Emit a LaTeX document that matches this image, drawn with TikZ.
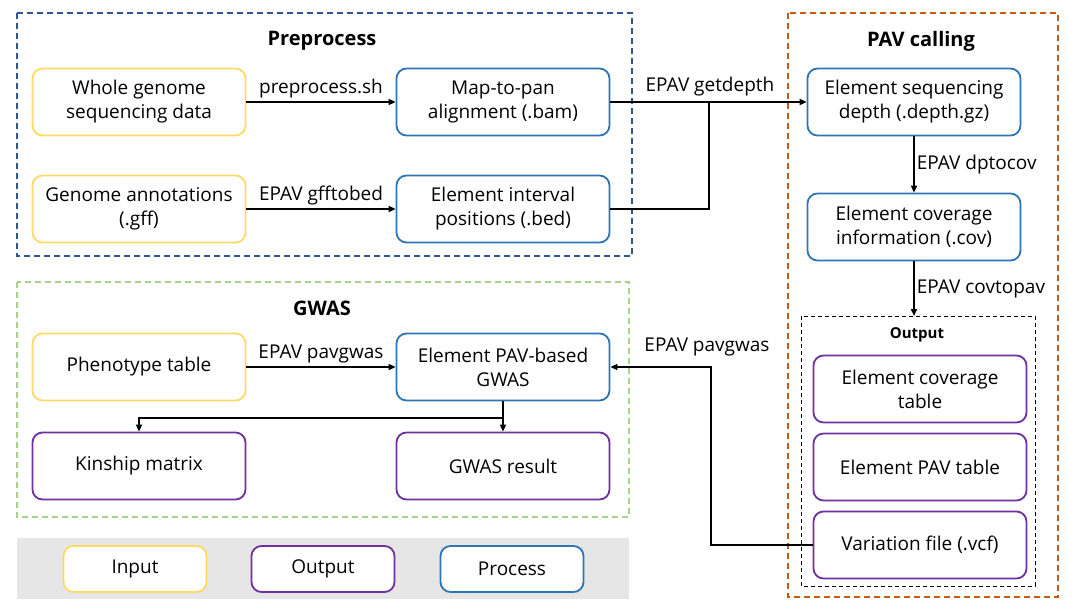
\documentclass[tikz,border=0pt]{standalone}
\usepackage{fontspec}
\setmainfont{Open Sans}
\usetikzlibrary{arrows.meta}
\definecolor{cin}{HTML}{FFD966}
\definecolor{cout}{HTML}{7030A0}
\definecolor{cproc}{HTML}{2E75B6}
\definecolor{fpre}{HTML}{2F5597}
\definecolor{fpav}{HTML}{C55A11}
\definecolor{fgw}{HTML}{A9D18E}
\definecolor{legbg}{HTML}{E6E6E6}
\tikzset{
  box/.style={draw, rounded corners=10pt, line width=1.8pt, minimum width=213pt, minimum height=67pt, align=center, fill=white, font=\fontsize{19}{24}\selectfont, inner sep=2pt},
  inbox/.style={box, draw=cin},
  outbox/.style={box, draw=cout},
  procbox/.style={box, draw=cproc},
  legbox/.style={box, minimum width=143pt, minimum height=46pt},
  frame/.style={line width=1.8pt, dash pattern=on 6pt off 4pt},
  conn/.style={line width=1.8pt, draw=black},
  arr/.style={conn, -{Triangle[length=7pt,width=6pt]}},
  lbl/.style={font=\fontsize{19}{24}\selectfont, inner sep=0pt},
  ttl/.style={font=\fontsize{20}{24}\selectfont\bfseries, inner sep=0pt},
}
\begin{document}
\begin{tikzpicture}[x=1pt,y=-1pt]
\useasboundingbox (0,0) rectangle (1080,608);
% frames
\draw[frame, draw=fpre] (17,13) rectangle (632,256);
\draw[frame, draw=fgw] (17,282) rectangle (629,517);
\draw[frame, draw=fpav] (788,13) rectangle (1058,597);
\draw[line width=1pt, dash pattern=on 4pt off 3pt] (801,316) rectangle (1035,586);
% titles
\node[ttl] (tpre) at (322,41) {Preprocess};
\node[ttl] (tgw) at (322,308) {GWAS};
\node[ttl] (tpav) at (921,41) {PAV calling};
\node[font=\fontsize{15}{18}\selectfont\bfseries, inner sep=0pt] (tout) at (917,335) {Output};
% preprocess
\node[inbox] (wgs) at (139,102) {Whole genome\\sequencing data};
\node[procbox] (map) at (503,102) {Map-to-pan\\alignment (.bam)};
\node[inbox] (gff) at (139,209) {Genome annotations\\(.gff)};
\node[procbox] (bed) at (503,209) {Element interval\\positions (.bed)};
% PAV calling
\node[procbox] (dep) at (914,102) {Element sequencing\\depth (.depth.gz)};
\node[procbox] (cov) at (914,227) {Element coverage\\information (.cov)};
\node[outbox] (ctab) at (920,389) {Element coverage\\table};
\node[outbox] (ptab) at (920,467) {Element PAV table};
\node[outbox] (vcf) at (920,545) {Variation file (.vcf)};
% GWAS
\node[inbox] (phe) at (139,367) {Phenotype table};
\node[procbox] (gw) at (503,367) {Element PAV-based\\GWAS};
\node[outbox] (kin) at (139,466) {Kinship matrix};
\node[outbox] (res) at (503,466) {GWAS result};
% legend
\fill[legbg] (17,538) rectangle (629,599);
\node[legbox, draw=cin] (lin) at (135,569) {Input};
\node[legbox, draw=cout] (lout) at (323,569) {Output};
\node[legbox, draw=cproc] (lproc) at (512,569) {Process};
% connectors
\draw[arr] (wgs) -- node[lbl, above=3pt] {preprocess.sh} (map);
\draw[arr] (gff) -- node[lbl, above=3pt] {EPAV gfftobed} (bed);
\coordinate (j1) at (709,102);
\draw[arr] (map) -- (dep);
\draw[conn] (bed.east) -| (j1);
\node[lbl] (lgd) at (710,87) {EPAV getdepth};
\draw[arr] (dep) -- node[lbl, right=2pt] {EPAV dptocov} (cov);
\coordinate (otop) at (914,316);
\draw[arr] (cov) -- node[lbl, right=2pt] {EPAV covtopav} (otop);
\draw[arr] (phe) -- node[lbl, above=3pt] {EPAV pavgwas} (gw);
\coordinate (j2) at (711,545);
\draw[arr] (vcf.west) -- (j2) |- (gw.east);
\node[lbl] (lpg) at (707,347) {EPAV pavgwas};
\coordinate (j3) at (503,418);
\draw[arr] (gw.south) -- (res.north);
\draw[arr] (j3) -| (kin.north);
\end{tikzpicture}
\end{document}
